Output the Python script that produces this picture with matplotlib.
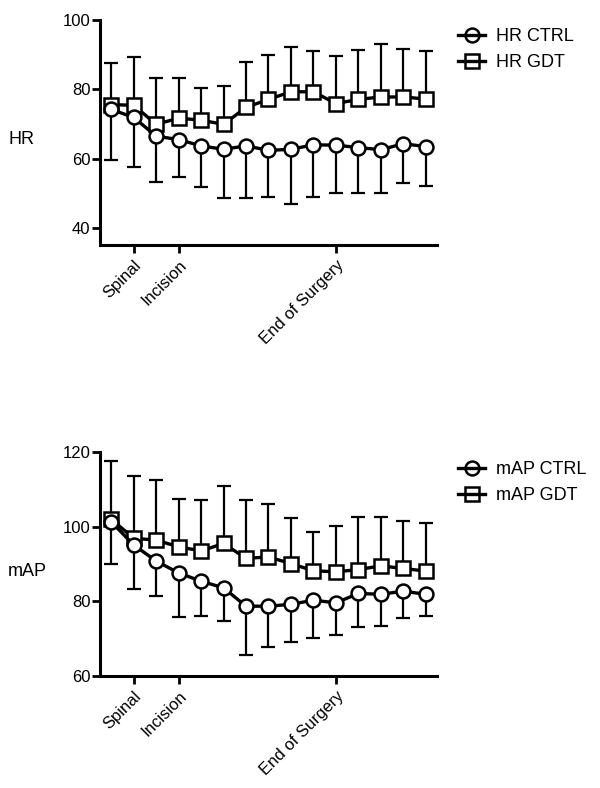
import matplotlib
matplotlib.use("Agg")
import matplotlib.pyplot as plt
from matplotlib.lines import Line2D
import numpy as np

plt.rcParams['font.family'] = ['Liberation Sans', 'DejaVu Sans']

timepoints = list(range(15))
tick_positions = [1, 3, 10]
tick_labels = ["Spinal", "Incision", "End of Surgery"]

hr_ctrl = [74.2, 71.9, 66.5, 65.5, 63.7, 62.7, 63.7, 62.4, 62.7, 64.0, 63.9, 63.2, 62.6, 64.3, 63.5]
hr_ctrl_low = [59.5, 57.6, 53.3, 54.7, 51.8, 48.7, 48.7, 48.9, 47.0, 48.9, 50.2, 50.2, 50.1, 53.0, 52.0]
hr_gdt = [75.6, 75.4, 69.9, 71.7, 71.1, 69.9, 74.8, 77.1, 79.3, 79.3, 75.9, 77.1, 77.8, 77.8, 77.2]
hr_gdt_high = [87.7, 89.4, 83.4, 83.3, 80.4, 80.9, 87.8, 89.9, 92.3, 91.1, 89.7, 91.3, 93.0, 91.6, 91.0]

map_ctrl = [101.3, 95.1, 90.8, 87.6, 85.4, 83.6, 78.7, 78.7, 79.2, 80.3, 79.6, 82.1, 81.9, 82.7, 81.9]
map_ctrl_low = [90.0, 83.2, 81.4, 75.8, 76.1, 74.7, 65.5, 67.7, 69.2, 70.2, 71.1, 73.1, 73.4, 75.6, 76.1]
map_gdt = [102.0, 96.9, 96.4, 94.6, 93.5, 95.5, 91.5, 91.9, 90.1, 88.2, 87.9, 88.5, 89.5, 88.8, 88.1]
map_gdt_high = [117.7, 113.5, 112.4, 107.5, 107.2, 110.8, 107.2, 106.1, 102.2, 98.7, 100.2, 102.5, 102.7, 101.6, 101.1]

W, H = 600, 788
fig = plt.figure(figsize=(W/100, H/100), dpi=100)

def make_ax(top_px, bottom_px):
    return fig.add_axes([100/W, 1 - bottom_px/H, (437-100)/W, (bottom_px-top_px)/H])

def draw(ax, ctrl, ctrl_low, gdt, gdt_high, names, ylim, yticks, ylabel, ylabel_y, leg_y):
    x = np.array(timepoints)
    ctrl = np.array(ctrl); gdt = np.array(gdt)
    ax.errorbar(x, ctrl, yerr=[ctrl - np.array(ctrl_low), np.zeros_like(ctrl)],
                fmt='none', ecolor='black', elinewidth=1.6, capsize=5, capthick=1.6, zorder=2)
    ax.errorbar(x, gdt, yerr=[np.zeros_like(gdt), np.array(gdt_high) - gdt],
                fmt='none', ecolor='black', elinewidth=1.6, capsize=5, capthick=1.6, zorder=2)
    ax.plot(x, ctrl, '-o', color='black', lw=2.4, ms=10, mfc='white', mec='black', mew=1.8, zorder=4)
    ax.plot(x, gdt, '-s', color='black', lw=2.4, ms=10, mfc='white', mec='black', mew=1.8, zorder=3)
    h1 = Line2D([], [], color='black', lw=2.4, marker='o', ms=10, mfc='none', mec='black', mew=1.8)
    h2 = Line2D([], [], color='black', lw=2.4, marker='s', ms=10, mfc='none', mec='black', mew=1.8)
    ax.set_xlim(-0.5, 14.5)
    ax.set_ylim(*ylim)
    ax.set_yticks(yticks)
    ax.set_xticks(tick_positions)
    ax.set_xticklabels(tick_labels, rotation=45, ha='right', rotation_mode='anchor', fontsize=12)
    ax.tick_params(axis='both', direction='out', length=6, width=2, labelsize=12, pad=1)
    ax.tick_params(axis='x', pad=3)
    for s in ['top', 'right']:
        ax.spines[s].set_visible(False)
    for s in ['left', 'bottom']:
        ax.spines[s].set_linewidth(2.2)
    fig.text(8/W, 1 - ylabel_y/H, ylabel, fontsize=13, va='center', ha='left')
    fig.legend(handles=[h1, h2], labels=names, loc='upper left', bbox_to_anchor=(451/W, 1 - leg_y/H),
               frameon=False, fontsize=13, handlelength=1.5, handletextpad=0.6,
               labelspacing=0.5, borderaxespad=0)

ax1 = make_ax(20, 245)
draw(ax1, hr_ctrl, hr_ctrl_low, hr_gdt, hr_gdt_high, ["HR CTRL", "HR GDT"],
     (35.1, 100), [40, 60, 80, 100], "HR", 140, 21)
ax2 = make_ax(452, 676)
draw(ax2, map_ctrl, map_ctrl_low, map_gdt, map_gdt_high, ["mAP CTRL", "mAP GDT"],
     (60, 120), [60, 80, 100, 120], "mAP", 572, 454)

fig.savefig("out.png", dpi=100)
